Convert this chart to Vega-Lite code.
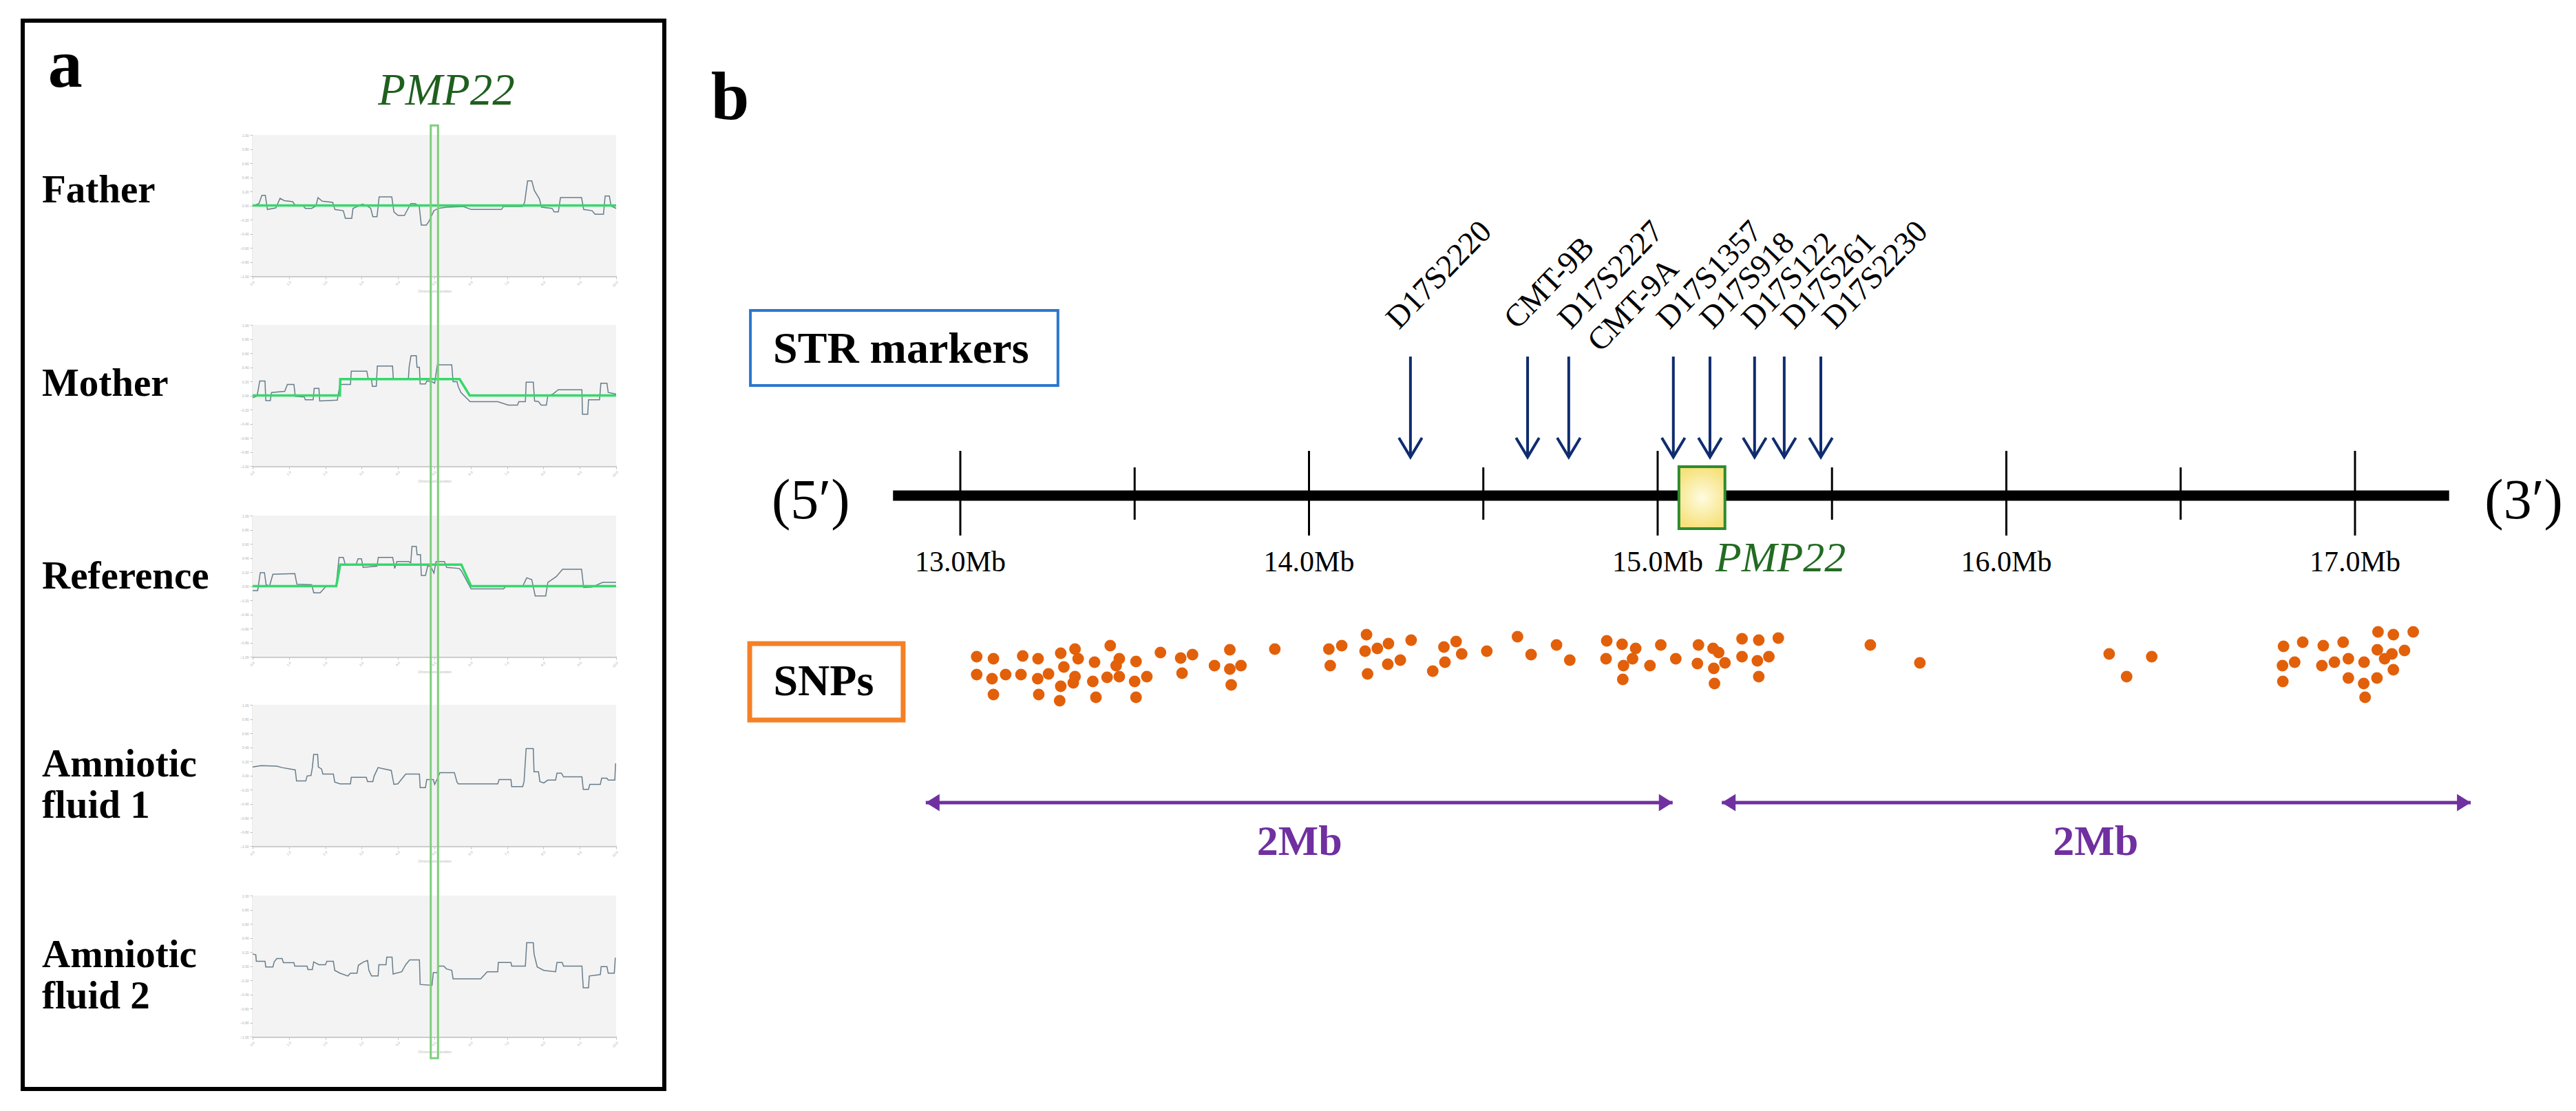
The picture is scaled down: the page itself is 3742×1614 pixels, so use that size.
{
"$schema":"https://vega.github.io/schema/vega-lite/v6.json",
"background":"white",
"padding":{"left":30,"top":27,"right":3,"bottom":0},
"bounds":"flush",
"spacing":30,
"config":{"font":"Liberation Serif","view":{"stroke":null}},
"datasets":{
"log2ratio":[
{"sample":"Father","pos":0,"ratio":-0.007},{"sample":"Father","pos":0.174,"ratio":0.027},{"sample":"Father","pos":0.255,"ratio":0.145},{"sample":"Father","pos":0.348,"ratio":0.145},{"sample":"Father","pos":0.406,"ratio":-0.057},{"sample":"Father","pos":0.638,"ratio":-0.034},{"sample":"Father","pos":0.754,"ratio":0.101},{"sample":"Father","pos":0.87,"ratio":0.068},{"sample":"Father","pos":1.102,"ratio":0.054},{"sample":"Father","pos":1.16,"ratio":0.01},{"sample":"Father","pos":1.392,"ratio":-0.007},{"sample":"Father","pos":1.45,"ratio":-0.041},{"sample":"Father","pos":1.624,"ratio":-0.041},{"sample":"Father","pos":1.74,"ratio":-0.007},{"sample":"Father","pos":1.798,"ratio":0.111},{"sample":"Father","pos":1.914,"ratio":0.061},{"sample":"Father","pos":2.204,"ratio":0.044},{"sample":"Father","pos":2.262,"ratio":-0.057},{"sample":"Father","pos":2.494,"ratio":-0.074},{"sample":"Father","pos":2.552,"ratio":-0.182},{"sample":"Father","pos":2.726,"ratio":-0.182},{"sample":"Father","pos":2.761,"ratio":-0.041},{"sample":"Father","pos":3.016,"ratio":0.02},{"sample":"Father","pos":3.132,"ratio":0},{"sample":"Father","pos":3.248,"ratio":-0.041},{"sample":"Father","pos":3.306,"ratio":-0.159},{"sample":"Father","pos":3.422,"ratio":-0.159},{"sample":"Father","pos":3.48,"ratio":0.122},{"sample":"Father","pos":3.828,"ratio":0.122},{"sample":"Father","pos":3.886,"ratio":-0.091},{"sample":"Father","pos":4.002,"ratio":-0.142},{"sample":"Father","pos":4.176,"ratio":-0.142},{"sample":"Father","pos":4.35,"ratio":0.027},{"sample":"Father","pos":4.466,"ratio":0.027},{"sample":"Father","pos":4.582,"ratio":-0.007},{"sample":"Father","pos":4.64,"ratio":-0.277},{"sample":"Father","pos":4.78,"ratio":-0.277},{"sample":"Father","pos":4.849,"ratio":-0.226},{"sample":"Father","pos":4.988,"ratio":-0.074},{"sample":"Father","pos":5.104,"ratio":-0.041},{"sample":"Father","pos":5.336,"ratio":-0.024},{"sample":"Father","pos":5.8,"ratio":-0.014},{"sample":"Father","pos":6.009,"ratio":-0.057},{"sample":"Father","pos":6.845,"ratio":-0.057},{"sample":"Father","pos":6.903,"ratio":-0.014},{"sample":"Father","pos":7.425,"ratio":-0.014},{"sample":"Father","pos":7.483,"ratio":0.044},{"sample":"Father","pos":7.564,"ratio":0.348},{"sample":"Father","pos":7.68,"ratio":0.348},{"sample":"Father","pos":7.749,"ratio":0.213},{"sample":"Father","pos":7.889,"ratio":0.095},{"sample":"Father","pos":7.947,"ratio":-0.024},{"sample":"Father","pos":8.237,"ratio":-0.041},{"sample":"Father","pos":8.295,"ratio":-0.091},{"sample":"Father","pos":8.411,"ratio":-0.091},{"sample":"Father","pos":8.469,"ratio":0.111},{"sample":"Father","pos":9.049,"ratio":0.111},{"sample":"Father","pos":9.107,"ratio":-0.057},{"sample":"Father","pos":9.339,"ratio":-0.074},{"sample":"Father","pos":9.42,"ratio":-0.125},{"sample":"Father","pos":9.652,"ratio":-0.125},{"sample":"Father","pos":9.698,"ratio":0.135},{"sample":"Father","pos":9.814,"ratio":0.135},{"sample":"Father","pos":9.861,"ratio":-0.007},{"sample":"Father","pos":10,"ratio":-0.041},
{"sample":"Mother","pos":0,"ratio":-0.033},{"sample":"Mother","pos":0.123,"ratio":-0.007},{"sample":"Mother","pos":0.195,"ratio":0.205},{"sample":"Mother","pos":0.34,"ratio":0.205},{"sample":"Mother","pos":0.362,"ratio":-0.072},{"sample":"Mother","pos":0.485,"ratio":-0.072},{"sample":"Mother","pos":0.521,"ratio":0.042},{"sample":"Mother","pos":0.883,"ratio":0.059},{"sample":"Mother","pos":0.955,"ratio":0.156},{"sample":"Mother","pos":1.136,"ratio":0.156},{"sample":"Mother","pos":1.172,"ratio":-0.013},{"sample":"Mother","pos":1.425,"ratio":-0.023},{"sample":"Mother","pos":1.447,"ratio":-0.062},{"sample":"Mother","pos":1.664,"ratio":-0.062},{"sample":"Mother","pos":1.693,"ratio":0.101},{"sample":"Mother","pos":1.823,"ratio":0.101},{"sample":"Mother","pos":1.845,"ratio":-0.078},{"sample":"Mother","pos":2.33,"ratio":-0.065},{"sample":"Mother","pos":2.402,"ratio":0.156},{"sample":"Mother","pos":2.692,"ratio":0.156},{"sample":"Mother","pos":2.713,"ratio":0.345},{"sample":"Mother","pos":3.14,"ratio":0.345},{"sample":"Mother","pos":3.184,"ratio":0.228},{"sample":"Mother","pos":3.271,"ratio":0.228},{"sample":"Mother","pos":3.292,"ratio":0.13},{"sample":"Mother","pos":3.401,"ratio":0.13},{"sample":"Mother","pos":3.43,"ratio":0.416},{"sample":"Mother","pos":3.849,"ratio":0.416},{"sample":"Mother","pos":3.871,"ratio":0.228},{"sample":"Mother","pos":4.284,"ratio":0.228},{"sample":"Mother","pos":4.305,"ratio":0.4},{"sample":"Mother","pos":4.356,"ratio":0.563},{"sample":"Mother","pos":4.501,"ratio":0.563},{"sample":"Mother","pos":4.522,"ratio":0.4},{"sample":"Mother","pos":4.588,"ratio":0.4},{"sample":"Mother","pos":4.609,"ratio":0.163},{"sample":"Mother","pos":4.754,"ratio":0.163},{"sample":"Mother","pos":4.79,"ratio":0.205},{"sample":"Mother","pos":4.935,"ratio":0.195},{"sample":"Mother","pos":5.007,"ratio":0.172},{"sample":"Mother","pos":5.08,"ratio":0.433},{"sample":"Mother","pos":5.478,"ratio":0.433},{"sample":"Mother","pos":5.514,"ratio":0.195},{"sample":"Mother","pos":5.622,"ratio":0.195},{"sample":"Mother","pos":5.658,"ratio":0.124},{"sample":"Mother","pos":5.731,"ratio":0.042},{"sample":"Mother","pos":5.984,"ratio":-0.088},{"sample":"Mother","pos":6.744,"ratio":-0.088},{"sample":"Mother","pos":7.033,"ratio":-0.137},{"sample":"Mother","pos":7.287,"ratio":-0.137},{"sample":"Mother","pos":7.323,"ratio":-0.088},{"sample":"Mother","pos":7.504,"ratio":-0.088},{"sample":"Mother","pos":7.525,"ratio":0.189},{"sample":"Mother","pos":7.721,"ratio":0.189},{"sample":"Mother","pos":7.757,"ratio":-0.078},{"sample":"Mother","pos":7.865,"ratio":-0.088},{"sample":"Mother","pos":7.938,"ratio":-0.137},{"sample":"Mother","pos":8.082,"ratio":-0.137},{"sample":"Mother","pos":8.119,"ratio":-0.007},{"sample":"Mother","pos":8.263,"ratio":0.02},{"sample":"Mother","pos":8.408,"ratio":0.081},{"sample":"Mother","pos":9.059,"ratio":0.081},{"sample":"Mother","pos":9.074,"ratio":-0.267},{"sample":"Mother","pos":9.219,"ratio":-0.267},{"sample":"Mother","pos":9.24,"ratio":-0.062},{"sample":"Mother","pos":9.544,"ratio":-0.062},{"sample":"Mother","pos":9.58,"ratio":0.172},{"sample":"Mother","pos":9.747,"ratio":0.172},{"sample":"Mother","pos":9.783,"ratio":0.042},{"sample":"Mother","pos":10,"ratio":0.02},
{"sample":"Reference","pos":0,"ratio":-0.063},{"sample":"Reference","pos":0.139,"ratio":-0.063},{"sample":"Reference","pos":0.209,"ratio":0.191},{"sample":"Reference","pos":0.325,"ratio":0.191},{"sample":"Reference","pos":0.371,"ratio":0.02},{"sample":"Reference","pos":0.464,"ratio":0.003},{"sample":"Reference","pos":0.557,"ratio":0.168},{"sample":"Reference","pos":1.16,"ratio":0.178},{"sample":"Reference","pos":1.218,"ratio":0.026},{"sample":"Reference","pos":1.624,"ratio":0.02},{"sample":"Reference","pos":1.682,"ratio":-0.095},{"sample":"Reference","pos":1.856,"ratio":-0.095},{"sample":"Reference","pos":1.972,"ratio":-0.03},{"sample":"Reference","pos":2.03,"ratio":0.003},{"sample":"Reference","pos":2.297,"ratio":0.003},{"sample":"Reference","pos":2.378,"ratio":0.408},{"sample":"Reference","pos":2.494,"ratio":0.408},{"sample":"Reference","pos":2.552,"ratio":0.299},{"sample":"Reference","pos":2.842,"ratio":0.299},{"sample":"Reference","pos":2.9,"ratio":0.388},{"sample":"Reference","pos":2.993,"ratio":0.388},{"sample":"Reference","pos":3.039,"ratio":0.266},{"sample":"Reference","pos":3.422,"ratio":0.283},{"sample":"Reference","pos":3.457,"ratio":0.408},{"sample":"Reference","pos":3.852,"ratio":0.408},{"sample":"Reference","pos":3.91,"ratio":0.25},{"sample":"Reference","pos":3.968,"ratio":0.349},{"sample":"Reference","pos":4.292,"ratio":0.349},{"sample":"Reference","pos":4.35,"ratio":0.332},{"sample":"Reference","pos":4.385,"ratio":0.563},{"sample":"Reference","pos":4.501,"ratio":0.563},{"sample":"Reference","pos":4.524,"ratio":0.447},{"sample":"Reference","pos":4.617,"ratio":0.447},{"sample":"Reference","pos":4.64,"ratio":0.151},{"sample":"Reference","pos":4.756,"ratio":0.151},{"sample":"Reference","pos":4.814,"ratio":0.283},{"sample":"Reference","pos":4.896,"ratio":0.283},{"sample":"Reference","pos":4.988,"ratio":0.184},{"sample":"Reference","pos":5.046,"ratio":0.349},{"sample":"Reference","pos":5.278,"ratio":0.349},{"sample":"Reference","pos":5.336,"ratio":0.266},{"sample":"Reference","pos":5.684,"ratio":0.25},{"sample":"Reference","pos":5.742,"ratio":0.217},{"sample":"Reference","pos":6.009,"ratio":-0.039},{"sample":"Reference","pos":6.903,"ratio":-0.039},{"sample":"Reference","pos":6.961,"ratio":-0.007},{"sample":"Reference","pos":7.425,"ratio":-0.007},{"sample":"Reference","pos":7.541,"ratio":0.118},{"sample":"Reference","pos":7.68,"ratio":0.092},{"sample":"Reference","pos":7.773,"ratio":-0.138},{"sample":"Reference","pos":8.063,"ratio":-0.138},{"sample":"Reference","pos":8.121,"ratio":0.053},{"sample":"Reference","pos":8.353,"ratio":0.135},{"sample":"Reference","pos":8.527,"ratio":0.24},{"sample":"Reference","pos":9.049,"ratio":0.24},{"sample":"Reference","pos":9.107,"ratio":-0.02},{"sample":"Reference","pos":9.339,"ratio":-0.013},{"sample":"Reference","pos":9.629,"ratio":0.053},{"sample":"Reference","pos":10,"ratio":0.053},
{"sample":"Amniotic fluid 1","pos":0,"ratio":0.119},{"sample":"Amniotic fluid 1","pos":0.232,"ratio":0.139},{"sample":"Amniotic fluid 1","pos":0.666,"ratio":0.131},{"sample":"Amniotic fluid 1","pos":0.81,"ratio":0.111},{"sample":"Amniotic fluid 1","pos":1.172,"ratio":0.079},{"sample":"Amniotic fluid 1","pos":1.208,"ratio":-0.079},{"sample":"Amniotic fluid 1","pos":1.462,"ratio":-0.079},{"sample":"Amniotic fluid 1","pos":1.498,"ratio":-0.008},{"sample":"Amniotic fluid 1","pos":1.606,"ratio":0},{"sample":"Amniotic fluid 1","pos":1.643,"ratio":0.111},{"sample":"Amniotic fluid 1","pos":1.679,"ratio":0.297},{"sample":"Amniotic fluid 1","pos":1.787,"ratio":0.297},{"sample":"Amniotic fluid 1","pos":1.809,"ratio":0.119},{"sample":"Amniotic fluid 1","pos":1.896,"ratio":0.091},{"sample":"Amniotic fluid 1","pos":1.932,"ratio":0.02},{"sample":"Amniotic fluid 1","pos":2.221,"ratio":0.02},{"sample":"Amniotic fluid 1","pos":2.258,"ratio":-0.095},{"sample":"Amniotic fluid 1","pos":2.402,"ratio":-0.119},{"sample":"Amniotic fluid 1","pos":2.692,"ratio":-0.119},{"sample":"Amniotic fluid 1","pos":2.713,"ratio":-0.028},{"sample":"Amniotic fluid 1","pos":3.126,"ratio":-0.028},{"sample":"Amniotic fluid 1","pos":3.162,"ratio":-0.087},{"sample":"Amniotic fluid 1","pos":3.307,"ratio":-0.087},{"sample":"Amniotic fluid 1","pos":3.343,"ratio":-0.008},{"sample":"Amniotic fluid 1","pos":3.452,"ratio":0.111},{"sample":"Amniotic fluid 1","pos":3.632,"ratio":0.091},{"sample":"Amniotic fluid 1","pos":3.813,"ratio":0.071},{"sample":"Amniotic fluid 1","pos":3.886,"ratio":-0.127},{"sample":"Amniotic fluid 1","pos":3.994,"ratio":-0.119},{"sample":"Amniotic fluid 1","pos":4.211,"ratio":0.02},{"sample":"Amniotic fluid 1","pos":4.588,"ratio":0.02},{"sample":"Amniotic fluid 1","pos":4.609,"ratio":-0.174},{"sample":"Amniotic fluid 1","pos":4.754,"ratio":-0.174},{"sample":"Amniotic fluid 1","pos":4.79,"ratio":-0.059},{"sample":"Amniotic fluid 1","pos":4.971,"ratio":-0.059},{"sample":"Amniotic fluid 1","pos":5.007,"ratio":-0.127},{"sample":"Amniotic fluid 1","pos":5.116,"ratio":-0.008},{"sample":"Amniotic fluid 1","pos":5.152,"ratio":0.04},{"sample":"Amniotic fluid 1","pos":5.55,"ratio":0.04},{"sample":"Amniotic fluid 1","pos":5.622,"ratio":-0.095},{"sample":"Amniotic fluid 1","pos":5.658,"ratio":-0.119},{"sample":"Amniotic fluid 1","pos":6.744,"ratio":-0.119},{"sample":"Amniotic fluid 1","pos":6.78,"ratio":-0.059},{"sample":"Amniotic fluid 1","pos":7.106,"ratio":-0.059},{"sample":"Amniotic fluid 1","pos":7.127,"ratio":-0.158},{"sample":"Amniotic fluid 1","pos":7.431,"ratio":-0.158},{"sample":"Amniotic fluid 1","pos":7.467,"ratio":-0.087},{"sample":"Amniotic fluid 1","pos":7.525,"ratio":0.38},{"sample":"Amniotic fluid 1","pos":7.721,"ratio":0.38},{"sample":"Amniotic fluid 1","pos":7.742,"ratio":0.051},{"sample":"Amniotic fluid 1","pos":7.865,"ratio":0.051},{"sample":"Amniotic fluid 1","pos":7.902,"ratio":-0.087},{"sample":"Amniotic fluid 1","pos":8.01,"ratio":-0.107},{"sample":"Amniotic fluid 1","pos":8.119,"ratio":-0.067},{"sample":"Amniotic fluid 1","pos":8.336,"ratio":-0.067},{"sample":"Amniotic fluid 1","pos":8.372,"ratio":0.032},{"sample":"Amniotic fluid 1","pos":8.495,"ratio":0.032},{"sample":"Amniotic fluid 1","pos":8.553,"ratio":-0.02},{"sample":"Amniotic fluid 1","pos":9.059,"ratio":-0.02},{"sample":"Amniotic fluid 1","pos":9.096,"ratio":-0.198},{"sample":"Amniotic fluid 1","pos":9.24,"ratio":-0.198},{"sample":"Amniotic fluid 1","pos":9.276,"ratio":-0.127},{"sample":"Amniotic fluid 1","pos":9.566,"ratio":-0.127},{"sample":"Amniotic fluid 1","pos":9.602,"ratio":-0.04},{"sample":"Amniotic fluid 1","pos":9.747,"ratio":-0.04},{"sample":"Amniotic fluid 1","pos":9.783,"ratio":-0.067},{"sample":"Amniotic fluid 1","pos":9.964,"ratio":-0.067},{"sample":"Amniotic fluid 1","pos":9.986,"ratio":0.17},
{"sample":"Amniotic fluid 2","pos":0,"ratio":0.172},{"sample":"Amniotic fluid 2","pos":0.087,"ratio":0.16},{"sample":"Amniotic fluid 2","pos":0.101,"ratio":0.068},{"sample":"Amniotic fluid 2","pos":0.34,"ratio":0.068},{"sample":"Amniotic fluid 2","pos":0.362,"ratio":-0.012},{"sample":"Amniotic fluid 2","pos":0.557,"ratio":-0.012},{"sample":"Amniotic fluid 2","pos":0.593,"ratio":0.06},{"sample":"Amniotic fluid 2","pos":0.666,"ratio":0.108},{"sample":"Amniotic fluid 2","pos":0.81,"ratio":0.108},{"sample":"Amniotic fluid 2","pos":0.847,"ratio":0.048},{"sample":"Amniotic fluid 2","pos":1.136,"ratio":0.048},{"sample":"Amniotic fluid 2","pos":1.158,"ratio":0},{"sample":"Amniotic fluid 2","pos":1.498,"ratio":0},{"sample":"Amniotic fluid 2","pos":1.52,"ratio":-0.048},{"sample":"Amniotic fluid 2","pos":1.643,"ratio":-0.048},{"sample":"Amniotic fluid 2","pos":1.679,"ratio":0.06},{"sample":"Amniotic fluid 2","pos":1.823,"ratio":0.02},{"sample":"Amniotic fluid 2","pos":2.004,"ratio":0.02},{"sample":"Amniotic fluid 2","pos":2.041,"ratio":0.068},{"sample":"Amniotic fluid 2","pos":2.221,"ratio":0.068},{"sample":"Amniotic fluid 2","pos":2.258,"ratio":-0.06},{"sample":"Amniotic fluid 2","pos":2.402,"ratio":-0.1},{"sample":"Amniotic fluid 2","pos":2.619,"ratio":-0.14},{"sample":"Amniotic fluid 2","pos":2.692,"ratio":-0.1},{"sample":"Amniotic fluid 2","pos":2.873,"ratio":-0.1},{"sample":"Amniotic fluid 2","pos":2.909,"ratio":0.012},{"sample":"Amniotic fluid 2","pos":3.054,"ratio":0.06},{"sample":"Amniotic fluid 2","pos":3.162,"ratio":0.08},{"sample":"Amniotic fluid 2","pos":3.198,"ratio":-0.06},{"sample":"Amniotic fluid 2","pos":3.271,"ratio":-0.14},{"sample":"Amniotic fluid 2","pos":3.452,"ratio":-0.14},{"sample":"Amniotic fluid 2","pos":3.473,"ratio":0.02},{"sample":"Amniotic fluid 2","pos":3.669,"ratio":0.02},{"sample":"Amniotic fluid 2","pos":3.69,"ratio":0.128},{"sample":"Amniotic fluid 2","pos":3.835,"ratio":0.128},{"sample":"Amniotic fluid 2","pos":3.864,"ratio":-0.112},{"sample":"Amniotic fluid 2","pos":4.103,"ratio":-0.08},{"sample":"Amniotic fluid 2","pos":4.211,"ratio":0.02},{"sample":"Amniotic fluid 2","pos":4.32,"ratio":0.088},{"sample":"Amniotic fluid 2","pos":4.588,"ratio":0.088},{"sample":"Amniotic fluid 2","pos":4.609,"ratio":-0.26},{"sample":"Amniotic fluid 2","pos":4.935,"ratio":-0.272},{"sample":"Amniotic fluid 2","pos":4.971,"ratio":-0.092},{"sample":"Amniotic fluid 2","pos":5.08,"ratio":-0.092},{"sample":"Amniotic fluid 2","pos":5.116,"ratio":0},{"sample":"Amniotic fluid 2","pos":5.26,"ratio":0},{"sample":"Amniotic fluid 2","pos":5.333,"ratio":-0.04},{"sample":"Amniotic fluid 2","pos":5.478,"ratio":-0.06},{"sample":"Amniotic fluid 2","pos":5.514,"ratio":-0.18},{"sample":"Amniotic fluid 2","pos":6.274,"ratio":-0.18},{"sample":"Amniotic fluid 2","pos":6.454,"ratio":-0.08},{"sample":"Amniotic fluid 2","pos":6.744,"ratio":-0.08},{"sample":"Amniotic fluid 2","pos":6.758,"ratio":0.052},{"sample":"Amniotic fluid 2","pos":7.106,"ratio":0.052},{"sample":"Amniotic fluid 2","pos":7.127,"ratio":0},{"sample":"Amniotic fluid 2","pos":7.504,"ratio":0},{"sample":"Amniotic fluid 2","pos":7.54,"ratio":0.332},{"sample":"Amniotic fluid 2","pos":7.721,"ratio":0.332},{"sample":"Amniotic fluid 2","pos":7.742,"ratio":0.172},{"sample":"Amniotic fluid 2","pos":7.829,"ratio":-0.012},{"sample":"Amniotic fluid 2","pos":8.01,"ratio":-0.06},{"sample":"Amniotic fluid 2","pos":8.336,"ratio":-0.08},{"sample":"Amniotic fluid 2","pos":8.372,"ratio":0.052},{"sample":"Amniotic fluid 2","pos":8.517,"ratio":0.052},{"sample":"Amniotic fluid 2","pos":8.553,"ratio":0},{"sample":"Amniotic fluid 2","pos":9.059,"ratio":0},{"sample":"Amniotic fluid 2","pos":9.096,"ratio":-0.308},{"sample":"Amniotic fluid 2","pos":9.24,"ratio":-0.308},{"sample":"Amniotic fluid 2","pos":9.262,"ratio":-0.14},{"sample":"Amniotic fluid 2","pos":9.566,"ratio":-0.12},{"sample":"Amniotic fluid 2","pos":9.588,"ratio":-0.008},{"sample":"Amniotic fluid 2","pos":9.747,"ratio":-0.008},{"sample":"Amniotic fluid 2","pos":9.783,"ratio":-0.1},{"sample":"Amniotic fluid 2","pos":9.949,"ratio":-0.1},{"sample":"Amniotic fluid 2","pos":9.978,"ratio":0.12}
],
"segments":[
{"sample":"Father","pos":0,"ratio":0},{"sample":"Father","pos":10,"ratio":0},
{"sample":"Mother","pos":0,"ratio":0},{"sample":"Mother","pos":2.4,"ratio":0},{"sample":"Mother","pos":2.41,"ratio":0.231},{"sample":"Mother","pos":5.695,"ratio":0.231},{"sample":"Mother","pos":5.97,"ratio":0},{"sample":"Mother","pos":10,"ratio":0},
{"sample":"Reference","pos":0,"ratio":0},{"sample":"Reference","pos":2.3,"ratio":0},{"sample":"Reference","pos":2.41,"ratio":0.306},{"sample":"Reference","pos":5.74,"ratio":0.306},{"sample":"Reference","pos":6.01,"ratio":0},{"sample":"Reference","pos":10,"ratio":0}
],
"region":[{"start":12.807,"end":17.27}],
"gene":[{"gene":"PMP22","start":15.061,"end":15.193}],
"ticks":[{"mb":13,"kind":"major","label":"13.0Mb"},{"mb":13.5,"kind":"minor","label":""},{"mb":14,"kind":"major","label":"14.0Mb"},{"mb":14.5,"kind":"minor","label":""},{"mb":15,"kind":"major","label":"15.0Mb"},{"mb":15.5,"kind":"minor","label":""},{"mb":16,"kind":"major","label":"16.0Mb"},{"mb":16.5,"kind":"minor","label":""},{"mb":17,"kind":"major","label":"17.0Mb"}],
"str":[
{"marker":"D17S2220","mb":14.291,"labelMb":14.258,"arrow":true},
{"marker":"CMT-9B","mb":14.627,"labelMb":14.597,"arrow":true},
{"marker":"D17S2227","mb":14.745,"labelMb":14.751,"arrow":true},
{"marker":"CMT-9A","mb":14.836,"labelMb":14.836,"arrow":false},
{"marker":"D17S1357","mb":15.045,"labelMb":15.034,"arrow":true},
{"marker":"D17S918","mb":15.15,"labelMb":15.158,"arrow":true},
{"marker":"D17S122","mb":15.278,"labelMb":15.278,"arrow":true},
{"marker":"D17S261","mb":15.363,"labelMb":15.391,"arrow":true},
{"marker":"D17S2230","mb":15.468,"labelMb":15.509,"arrow":true}
],
"spans":[{"from":12.901,"to":15.043,"label":"2Mb"},{"from":15.184,"to":17.332,"label":"2Mb"}],
"snps":[
{"mb":13.047,"track":-2.34},{"mb":13.095,"track":-2.37},{"mb":13.047,"track":-2.6},{"mb":13.091,"track":-2.66},{"mb":13.095,"track":-2.89},{"mb":13.13,"track":-2.6},{"mb":13.174,"track":-2.6},{"mb":13.179,"track":-2.33},{"mb":13.223,"track":-2.37},{"mb":13.222,"track":-2.66},{"mb":13.225,"track":-2.89},{"mb":13.253,"track":-2.59},{"mb":13.288,"track":-2.29},{"mb":13.297,"track":-2.49},{"mb":13.288,"track":-2.77},{"mb":13.285,"track":-2.98},{"mb":13.329,"track":-2.23},{"mb":13.338,"track":-2.37},{"mb":13.329,"track":-2.63},{"mb":13.324,"track":-2.72},{"mb":13.385,"track":-2.42},{"mb":13.38,"track":-2.7},{"mb":13.389,"track":-2.93},{"mb":13.43,"track":-2.18},{"mb":13.421,"track":-2.64},{"mb":13.456,"track":-2.37},{"mb":13.447,"track":-2.47},{"mb":13.456,"track":-2.63},{"mb":13.504,"track":-2.41},{"mb":13.5,"track":-2.7},{"mb":13.504,"track":-2.93},{"mb":13.535,"track":-2.63},{"mb":13.574,"track":-2.28},{"mb":13.632,"track":-2.36},{"mb":13.636,"track":-2.58},{"mb":13.666,"track":-2.31},{"mb":13.729,"track":-2.47},{"mb":13.773,"track":-2.24},{"mb":13.773,"track":-2.52},{"mb":13.777,"track":-2.75},{"mb":13.805,"track":-2.47},{"mb":13.902,"track":-2.23},
{"mb":14.057,"track":-2.23},{"mb":14.061,"track":-2.47},{"mb":14.094,"track":-2.18},{"mb":14.165,"track":-2.02},{"mb":14.161,"track":-2.26},{"mb":14.168,"track":-2.59},{"mb":14.196,"track":-2.22},{"mb":14.228,"track":-2.15},{"mb":14.226,"track":-2.45},{"mb":14.262,"track":-2.39},{"mb":14.293,"track":-2.1},{"mb":14.355,"track":-2.55},{"mb":14.387,"track":-2.2},{"mb":14.39,"track":-2.42},{"mb":14.422,"track":-2.12},{"mb":14.438,"track":-2.3},{"mb":14.51,"track":-2.26},{"mb":14.598,"track":-2.05},{"mb":14.637,"track":-2.31},{"mb":14.71,"track":-2.17},{"mb":14.748,"track":-2.39},
{"mb":14.854,"track":-2.11},{"mb":14.852,"track":-2.37},{"mb":14.898,"track":-2.16},{"mb":14.902,"track":-2.47},{"mb":14.9,"track":-2.67},{"mb":14.937,"track":-2.22},{"mb":14.928,"track":-2.37},{"mb":14.978,"track":-2.47},{"mb":15.009,"track":-2.17},{"mb":15.052,"track":-2.37},{"mb":15.117,"track":-2.17},{"mb":15.114,"track":-2.44},{"mb":15.159,"track":-2.22},{"mb":15.161,"track":-2.51},{"mb":15.163,"track":-2.73},{"mb":15.193,"track":-2.43},{"mb":15.175,"track":-2.28},{"mb":15.242,"track":-2.08},{"mb":15.242,"track":-2.34},{"mb":15.29,"track":-2.1},{"mb":15.286,"track":-2.4},{"mb":15.29,"track":-2.63},{"mb":15.319,"track":-2.34},{"mb":15.346,"track":-2.07},
{"mb":15.61,"track":-2.17},{"mb":15.752,"track":-2.43},{"mb":16.295,"track":-2.3},{"mb":16.345,"track":-2.63},{"mb":16.417,"track":-2.34},
{"mb":16.795,"track":-2.19},{"mb":16.792,"track":-2.47},{"mb":16.793,"track":-2.7},{"mb":16.827,"track":-2.42},{"mb":16.85,"track":-2.13},{"mb":16.909,"track":-2.18},{"mb":16.905,"track":-2.47},{"mb":16.941,"track":-2.42},{"mb":16.966,"track":-2.13},{"mb":16.981,"track":-2.37},{"mb":16.981,"track":-2.65},{"mb":17.026,"track":-2.42},{"mb":17.025,"track":-2.73},{"mb":17.029,"track":-2.93},{"mb":17.064,"track":-2.24},{"mb":17.066,"track":-1.98},{"mb":17.063,"track":-2.65},{"mb":17.085,"track":-2.37},{"mb":17.106,"track":-2.3},{"mb":17.11,"track":-2.02},{"mb":17.11,"track":-2.53},{"mb":17.142,"track":-2.25},{"mb":17.167,"track":-1.98}
]
},
"hconcat":[
{
"width":932,"height":1552,
"view":{"stroke":"black","strokeWidth":6,"fill":"white"},
"resolve":{"scale":{"x":"independent","y":"independent"},"axis":{"x":"independent","y":"independent"}},
"layer":[
{"layer":[
 {"data":{"values":[{}]},"mark":{"type":"rect","fill":"#f3f3f3"},"encoding":{"x":{"datum":0,"type":"quantitative"},"x2":{"datum":10},"y":{"datum":-1,"type":"quantitative"},"y2":{"datum":1}}},
 {"data":{"name":"log2ratio"},"transform":[{"filter":"datum.sample === 'Father'"}],"mark":{"type":"line","color":"#687d8a","strokeWidth":1.5},
  "encoding":{"x":{"field":"pos","type":"quantitative","scale":{"domain":[0,10],"range":[334,862],"nice":false,"zero":false},"axis":{"orient":"bottom","offset":-1181,"values":[0,1,2,3,4,5,6,7,8,9,10],"labelAngle":-45,"labelFontSize":5,"labelColor":"#b0b0b0","labelFont":"Liberation Sans","tickColor":"#c0c0c0","tickSize":4,"domainColor":"#cccccc","domainWidth":3,"grid":false,"title":"Chromosome position","titleFontSize":5,"titleColor":"#b8b8b8","titleFontWeight":"normal","titleFont":"Liberation Sans","titlePadding":3}},
   "y":{"field":"ratio","type":"quantitative","scale":{"domain":[-1,1],"range":[371,166],"nice":false,"zero":false},"axis":{"orient":"left","offset":-334,"values":[-1,-0.8,-0.6,-0.4,-0.2,0,0.2,0.4,0.6,0.8,1],"format":".2f","labelFontSize":5,"labelColor":"#b0b0b0","labelFont":"Liberation Sans","tickColor":"#c0c0c0","tickSize":4,"domainColor":"#a8a8a8","domainWidth":1.5,"grid":false,"title":"Father","titleAngle":0,"titleAlign":"left","titleBaseline":"middle","titleX":-306.5,"titleY":246.5,"titleFontSize":57,"titleFontWeight":"bold","titleColor":"black","titleFont":"Liberation Serif","titleLineHeight":60}}}},
 {"data":{"name":"segments"},"transform":[{"filter":"datum.sample === 'Father'"}],"mark":{"type":"line","color":"#35d86b","strokeWidth":3.5},"encoding":{"x":{"field":"pos","type":"quantitative"},"y":{"field":"ratio","type":"quantitative"}}}
]},
{"layer":[
 {"data":{"values":[{}]},"mark":{"type":"rect","fill":"#f3f3f3"},"encoding":{"x":{"datum":0,"type":"quantitative"},"x2":{"datum":10},"y":{"datum":-1,"type":"quantitative"},"y2":{"datum":1}}},
 {"data":{"name":"log2ratio"},"transform":[{"filter":"datum.sample === 'Mother'"}],"mark":{"type":"line","color":"#687d8a","strokeWidth":1.5},
  "encoding":{"x":{"field":"pos","type":"quantitative","scale":{"domain":[0,10],"range":[334,862],"nice":false,"zero":false},"axis":{"orient":"bottom","offset":-905,"values":[0,1,2,3,4,5,6,7,8,9,10],"labelAngle":-45,"labelFontSize":5,"labelColor":"#b0b0b0","labelFont":"Liberation Sans","tickColor":"#c0c0c0","tickSize":4,"domainColor":"#cccccc","domainWidth":3,"grid":false,"title":"Chromosome position","titleFontSize":5,"titleColor":"#b8b8b8","titleFontWeight":"normal","titleFont":"Liberation Sans","titlePadding":3}},
   "y":{"field":"ratio","type":"quantitative","scale":{"domain":[-1,1],"range":[647,442],"nice":false,"zero":false},"axis":{"orient":"left","offset":-334,"values":[-1,-0.8,-0.6,-0.4,-0.2,0,0.2,0.4,0.6,0.8,1],"format":".2f","labelFontSize":5,"labelColor":"#b0b0b0","labelFont":"Liberation Sans","tickColor":"#c0c0c0","tickSize":4,"domainColor":"#a8a8a8","domainWidth":1.5,"grid":false,"title":"Mother","titleAngle":0,"titleAlign":"left","titleBaseline":"middle","titleX":-306.5,"titleY":527.5,"titleFontSize":57,"titleFontWeight":"bold","titleColor":"black","titleFont":"Liberation Serif","titleLineHeight":60}}}},
 {"data":{"name":"segments"},"transform":[{"filter":"datum.sample === 'Mother'"}],"mark":{"type":"line","color":"#35d86b","strokeWidth":3.5},"encoding":{"x":{"field":"pos","type":"quantitative"},"y":{"field":"ratio","type":"quantitative"}}}
]},
{"layer":[
 {"data":{"values":[{}]},"mark":{"type":"rect","fill":"#f3f3f3"},"encoding":{"x":{"datum":0,"type":"quantitative"},"x2":{"datum":10},"y":{"datum":-1,"type":"quantitative"},"y2":{"datum":1}}},
 {"data":{"name":"log2ratio"},"transform":[{"filter":"datum.sample === 'Reference'"}],"mark":{"type":"line","color":"#687d8a","strokeWidth":1.5},
  "encoding":{"x":{"field":"pos","type":"quantitative","scale":{"domain":[0,10],"range":[334,862],"nice":false,"zero":false},"axis":{"orient":"bottom","offset":-628,"values":[0,1,2,3,4,5,6,7,8,9,10],"labelAngle":-45,"labelFontSize":5,"labelColor":"#b0b0b0","labelFont":"Liberation Sans","tickColor":"#c0c0c0","tickSize":4,"domainColor":"#cccccc","domainWidth":3,"grid":false,"title":"Chromosome position","titleFontSize":5,"titleColor":"#b8b8b8","titleFontWeight":"normal","titleFont":"Liberation Sans","titlePadding":3}},
   "y":{"field":"ratio","type":"quantitative","scale":{"domain":[-1,1],"range":[924,719],"nice":false,"zero":false},"axis":{"orient":"left","offset":-334,"values":[-1,-0.8,-0.6,-0.4,-0.2,0,0.2,0.4,0.6,0.8,1],"format":".2f","labelFontSize":5,"labelColor":"#b0b0b0","labelFont":"Liberation Sans","tickColor":"#c0c0c0","tickSize":4,"domainColor":"#a8a8a8","domainWidth":1.5,"grid":false,"title":"Reference","titleAngle":0,"titleAlign":"left","titleBaseline":"middle","titleX":-306.5,"titleY":807.5,"titleFontSize":57,"titleFontWeight":"bold","titleColor":"black","titleFont":"Liberation Serif","titleLineHeight":60}}}},
 {"data":{"name":"segments"},"transform":[{"filter":"datum.sample === 'Reference'"}],"mark":{"type":"line","color":"#35d86b","strokeWidth":3.5},"encoding":{"x":{"field":"pos","type":"quantitative"},"y":{"field":"ratio","type":"quantitative"}}}
]},
{"layer":[
 {"data":{"values":[{}]},"mark":{"type":"rect","fill":"#f3f3f3"},"encoding":{"x":{"datum":0,"type":"quantitative"},"x2":{"datum":10},"y":{"datum":-1,"type":"quantitative"},"y2":{"datum":1}}},
 {"data":{"name":"log2ratio"},"transform":[{"filter":"datum.sample === 'Amniotic fluid 1'"}],"mark":{"type":"line","color":"#687d8a","strokeWidth":1.5},
  "encoding":{"x":{"field":"pos","type":"quantitative","scale":{"domain":[0,10],"range":[334,862],"nice":false,"zero":false},"axis":{"orient":"bottom","offset":-353,"values":[0,1,2,3,4,5,6,7,8,9,10],"labelAngle":-45,"labelFontSize":5,"labelColor":"#b0b0b0","labelFont":"Liberation Sans","tickColor":"#c0c0c0","tickSize":4,"domainColor":"#cccccc","domainWidth":3,"grid":false,"title":"Chromosome position","titleFontSize":5,"titleColor":"#b8b8b8","titleFontWeight":"normal","titleFont":"Liberation Sans","titlePadding":3}},
   "y":{"field":"ratio","type":"quantitative","scale":{"domain":[-1,1],"range":[1199,994],"nice":false,"zero":false},"axis":{"orient":"left","offset":-334,"values":[-1,-0.8,-0.6,-0.4,-0.2,0,0.2,0.4,0.6,0.8,1],"format":".2f","labelFontSize":5,"labelColor":"#b0b0b0","labelFont":"Liberation Sans","tickColor":"#c0c0c0","tickSize":4,"domainColor":"#a8a8a8","domainWidth":1.5,"grid":false,"title":["Amniotic","fluid 1"],"titleAngle":0,"titleAlign":"left","titleBaseline":"middle","titleX":-306.5,"titleY":1080,"titleFontSize":57,"titleFontWeight":"bold","titleColor":"black","titleFont":"Liberation Serif","titleLineHeight":60}}}}
]},
{"layer":[
 {"data":{"values":[{}]},"mark":{"type":"rect","fill":"#f3f3f3"},"encoding":{"x":{"datum":0,"type":"quantitative"},"x2":{"datum":10},"y":{"datum":-1,"type":"quantitative"},"y2":{"datum":1}}},
 {"data":{"name":"log2ratio"},"transform":[{"filter":"datum.sample === 'Amniotic fluid 2'"}],"mark":{"type":"line","color":"#687d8a","strokeWidth":1.5},
  "encoding":{"x":{"field":"pos","type":"quantitative","scale":{"domain":[0,10],"range":[334,862],"nice":false,"zero":false},"axis":{"orient":"bottom","offset":-76,"values":[0,1,2,3,4,5,6,7,8,9,10],"labelAngle":-45,"labelFontSize":5,"labelColor":"#b0b0b0","labelFont":"Liberation Sans","tickColor":"#c0c0c0","tickSize":4,"domainColor":"#cccccc","domainWidth":3,"grid":false,"title":"Chromosome position","titleFontSize":5,"titleColor":"#b8b8b8","titleFontWeight":"normal","titleFont":"Liberation Sans","titlePadding":3}},
   "y":{"field":"ratio","type":"quantitative","scale":{"domain":[-1,1],"range":[1476,1271],"nice":false,"zero":false},"axis":{"orient":"left","offset":-334,"values":[-1,-0.8,-0.6,-0.4,-0.2,0,0.2,0.4,0.6,0.8,1],"format":".2f","labelFontSize":5,"labelColor":"#b0b0b0","labelFont":"Liberation Sans","tickColor":"#c0c0c0","tickSize":4,"domainColor":"#a8a8a8","domainWidth":1.5,"grid":false,"title":["Amniotic","fluid 2"],"titleAngle":0,"titleAlign":"left","titleBaseline":"middle","titleX":-306.5,"titleY":1357,"titleFontSize":57,"titleFontWeight":"bold","titleColor":"black","titleFont":"Liberation Serif","titleLineHeight":60}}}}
]},
{"layer":[
 {"data":{"values":[{}]},"mark":{"type":"rect","filled":false,"color":"#7dcf7d","strokeWidth":3},
  "encoding":{"x":{"datum":4.9,"type":"quantitative","scale":{"domain":[0,10],"range":[334,862],"nice":false,"zero":false},"axis":null},"x2":{"datum":5.1},
   "y":{"datum":-0.05,"type":"quantitative","scale":{"domain":[0,5],"range":[166,1546],"nice":false,"zero":false},"axis":null},"y2":{"datum":4.86}}},
 {"data":{"values":[{}]},"mark":{"type":"text","text":"PMP22","font":"Liberation Serif","fontStyle":"italic","fontSize":65,"color":"#1f5f1f","align":"center","baseline":"alphabetic"},
  "encoding":{"x":{"datum":5.33,"type":"quantitative","axis":null},"y":{"datum":-0.161,"type":"quantitative","axis":null}}},
 {"data":{"values":[{}]},"mark":{"type":"text","text":"a","font":"Liberation Serif","fontWeight":"bold","fontSize":100,"color":"black","align":"left","baseline":"alphabetic"},
  "encoding":{"x":{"datum":-5.63,"type":"quantitative","axis":null},"y":{"datum":-0.255,"type":"quantitative","axis":null}}}
]}
]
},
{
"width":2744,"height":1552,
"view":{"stroke":null},
"layer":[
 {"data":{"name":"region"},"mark":{"type":"rule","color":"black","strokeWidth":15},
  "encoding":{"x":{"field":"start","type":"quantitative","scale":{"domain":[12.2103,17.6279],"nice":false,"zero":false},"axis":null},"x2":{"field":"end"},
   "y":{"datum":0,"type":"quantitative","scale":{"domain":[-8.62,6.9],"nice":false,"zero":false},"axis":null}}},
 {"data":{"name":"ticks"},"transform":[{"filter":"datum.kind === 'major'"}],"mark":{"type":"rule","color":"black","strokeWidth":3},
  "encoding":{"x":{"field":"mb","type":"quantitative","axis":null},"y":{"datum":0.65,"type":"quantitative","axis":null},"y2":{"datum":-0.58}}},
 {"data":{"name":"ticks"},"transform":[{"filter":"datum.kind === 'minor'"}],"mark":{"type":"rule","color":"black","strokeWidth":3},
  "encoding":{"x":{"field":"mb","type":"quantitative","axis":null},"y":{"datum":0.41,"type":"quantitative","axis":null},"y2":{"datum":-0.35}}},
 {"data":{"name":"ticks"},"transform":[{"filter":"datum.kind === 'major'"}],"mark":{"type":"text","font":"Liberation Serif","fontSize":42,"color":"black","align":"center","baseline":"alphabetic"},
  "encoding":{"x":{"field":"mb","type":"quantitative","axis":null},"y":{"datum":-1.1,"type":"quantitative","axis":null},"text":{"field":"label"}}},
 {"data":{"name":"gene"},"mark":{"type":"rect","fill":{"gradient":"radial","stops":[{"offset":0,"color":"#fffbe0"},{"offset":1,"color":"#f6e27c"}]},"stroke":"#2e8b2e","strokeWidth":4},
  "encoding":{"x":{"field":"start","type":"quantitative","axis":null},"x2":{"field":"end"},"y":{"datum":0.42,"type":"quantitative","axis":null},"y2":{"datum":-0.48}}},
 {"data":{"name":"gene"},"mark":{"type":"text","font":"Liberation Serif","fontStyle":"italic","fontSize":62,"color":"#236b23","align":"left","baseline":"alphabetic","dx":53},
  "encoding":{"x":{"field":"start","type":"quantitative","axis":null},"y":{"datum":-1.1,"type":"quantitative","axis":null},"text":{"field":"gene"}}},
 {"data":{"name":"str"},"transform":[{"filter":"datum.arrow"}],"mark":{"type":"rule","color":"#0f2c6e","strokeWidth":4},
  "encoding":{"x":{"field":"mb","type":"quantitative","axis":null},"y":{"datum":2.02,"type":"quantitative","axis":null},"y2":{"datum":0.57}}},
 {"data":{"name":"str"},"transform":[{"filter":"datum.arrow"}],"mark":{"type":"point","shape":"M-0.6,-1L0,0L0.6,-1","size":3136,"filled":false,"color":"#0f2c6e","strokeWidth":4,"opacity":1},
  "encoding":{"x":{"field":"mb","type":"quantitative","axis":null},"y":{"datum":0.56,"type":"quantitative","axis":null}}},
 {"data":{"name":"str"},"transform":[{"filter":"datum.arrow"}],"mark":{"type":"text","font":"Liberation Serif","fontSize":46,"color":"black","align":"left","baseline":"alphabetic","angle":-46},
  "encoding":{"x":{"field":"labelMb","type":"quantitative","axis":null},"y":{"datum":2.4,"type":"quantitative","axis":null},"text":{"field":"marker"}}},
 {"data":{"name":"str"},"transform":[{"filter":"!datum.arrow"}],"mark":{"type":"text","font":"Liberation Serif","fontSize":46,"color":"black","align":"left","baseline":"alphabetic","angle":-46},
  "encoding":{"x":{"field":"labelMb","type":"quantitative","axis":null},"y":{"datum":2.07,"type":"quantitative","axis":null},"text":{"field":"marker"}}},
 {"data":{"name":"snps"},"mark":{"type":"point","filled":true,"size":285,"color":"#e2600a","opacity":1},
  "encoding":{"x":{"field":"mb","type":"quantitative","axis":null},"y":{"field":"track","type":"quantitative","axis":null}}},
 {"data":{"values":[{}]},"mark":{"type":"rect","filled":false,"color":"#2a77d0","strokeWidth":4},
  "encoding":{"x":{"datum":12.398,"type":"quantitative","axis":null},"x2":{"datum":13.28},"y":{"datum":2.69,"type":"quantitative","axis":null},"y2":{"datum":1.6}}},
 {"data":{"values":[{}]},"mark":{"type":"text","text":"STR markers","font":"Liberation Serif","fontWeight":"bold","fontSize":64,"color":"black","align":"center","baseline":"alphabetic"},
  "encoding":{"x":{"datum":12.83,"type":"quantitative","axis":null},"y":{"datum":1.93,"type":"quantitative","axis":null}}},
 {"data":{"values":[{}]},"mark":{"type":"rect","filled":false,"color":"#f58025","strokeWidth":7},
  "encoding":{"x":{"datum":12.396,"type":"quantitative","axis":null},"x2":{"datum":12.836},"y":{"datum":-2.15,"type":"quantitative","axis":null},"y2":{"datum":-3.26}}},
 {"data":{"values":[{}]},"mark":{"type":"text","text":"SNPs","font":"Liberation Serif","fontWeight":"bold","fontSize":64,"color":"black","align":"center","baseline":"alphabetic"},
  "encoding":{"x":{"datum":12.608,"type":"quantitative","axis":null},"y":{"datum":-2.9,"type":"quantitative","axis":null}}},
 {"data":{"values":[{}]},"mark":{"type":"text","text":"(5′)","font":"Liberation Serif","fontSize":82,"color":"black","align":"center","baseline":"middle"},
  "encoding":{"x":{"datum":12.571,"type":"quantitative","axis":null},"y":{"datum":-0.08,"type":"quantitative","axis":null}}},
 {"data":{"values":[{}]},"mark":{"type":"text","text":"(3′)","font":"Liberation Serif","fontSize":82,"color":"black","align":"center","baseline":"middle"},
  "encoding":{"x":{"datum":17.484,"type":"quantitative","axis":null},"y":{"datum":-0.08,"type":"quantitative","axis":null}}},
 {"data":{"name":"spans"},"mark":{"type":"rule","color":"#7030a0","strokeWidth":5},
  "encoding":{"x":{"field":"from","type":"quantitative","axis":null},"x2":{"field":"to"},"y":{"datum":-4.46,"type":"quantitative","axis":null}}},
 {"data":{"name":"spans"},"mark":{"type":"point","shape":"M0,0L1,-0.62L1,0.62Z","size":1600,"filled":true,"color":"#7030a0","opacity":1},
  "encoding":{"x":{"field":"from","type":"quantitative","axis":null},"y":{"datum":-4.46,"type":"quantitative","axis":null}}},
 {"data":{"name":"spans"},"mark":{"type":"point","shape":"M0,0L-1,-0.62L-1,0.62Z","size":1600,"filled":true,"color":"#7030a0","opacity":1},
  "encoding":{"x":{"field":"to","type":"quantitative","axis":null},"y":{"datum":-4.46,"type":"quantitative","axis":null}}},
 {"data":{"name":"spans"},"mark":{"type":"text","font":"Liberation Serif","fontWeight":"bold","fontSize":62,"color":"#7030a0","align":"center","baseline":"alphabetic","dx":543},
  "encoding":{"x":{"field":"from","type":"quantitative","axis":null},"y":{"datum":-5.22,"type":"quantitative","axis":null},"text":{"field":"label"}}},
 {"data":{"values":[{}]},"mark":{"type":"text","text":"b","font":"Liberation Serif","fontWeight":"bold","fontSize":100,"color":"black","align":"left","baseline":"alphabetic"},
  "encoding":{"x":{"datum":12.285,"type":"quantitative","axis":null},"y":{"datum":5.47,"type":"quantitative","axis":null}}}
]
}
]
}
